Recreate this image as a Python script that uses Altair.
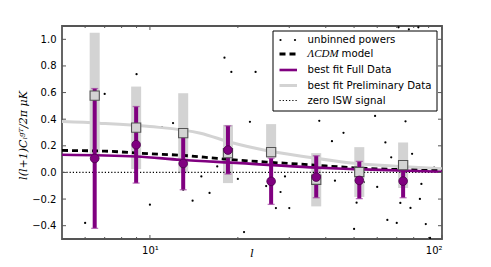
import altair as alt
import pandas as pd

# ---------------- data ----------------
ub_l = [6, 7, 9, 10, 11, 12, 13, 14, 15, 16, 17, 18, 19, 20, 21, 22, 23, 25, 27, 28,
        29, 30, 38, 42, 43, 46, 50, 51, 52, 54, 60, 59, 64, 65, 67, 70, 71, 72, 75, 77,
        78, 79, 83, 84, 85, 88, 91, 94]
ub_v = [-0.379, 0.590, 0.738, -0.242, 0.339, 0.371, -0.130, -0.212, -0.030, -0.154,
        0.045, 0.862, 0.755, -0.049, -0.448, 0.380, 0.755, -0.102, -0.268, -0.147,
        -0.030, -0.268, 0.388, 0.235, -0.062, 0.298, -0.424, -0.227, 0.145, -0.073,
        -0.109, 0.424, 0.225, -0.357, 0.114, -0.379, 1.09, -0.229, 0.384, 1.075,
        -0.267, 0.140, 1.09, -0.199, -0.086, -0.388, -0.492, 0.037]

bin_l = [6.47, 8.97, 13.0, 18.5, 26.0, 37.1, 52.1, 73.6]
full_v = [0.105, 0.208, 0.067, 0.168, -0.067, -0.035, -0.060, -0.065]
full_lo = [-0.42, -0.08, -0.13, -0.012, -0.24, -0.19, -0.197, -0.19]
full_hi = [0.63, 0.495, 0.27, 0.35, 0.107, 0.125, 0.083, 0.065]
pre_v = [0.577, 0.337, 0.295, 0.145, 0.153, -0.055, 0.003, 0.055]
pre_lo = [0.10, 0.025, -0.005, -0.08, 0.11, -0.255, -0.184, -0.117]
pre_hi = [1.05, 0.645, 0.595, 0.357, 0.363, 0.145, 0.19, 0.225]

pre_fit_l = [5, 6.7, 10, 14.9, 19, 25, 35.5, 47, 72, 100]
pre_fit_v = [0.382, 0.37, 0.345, 0.295, 0.225, 0.165, 0.112, 0.075, 0.045, 0.028]

lcdm_l = [5, 7, 10, 13, 17, 20, 25, 35, 50, 70, 100]
lcdm_v = [0.165, 0.16, 0.14, 0.128, 0.105, 0.092, 0.078, 0.058, 0.035, 0.022, 0.012]

full_fit_l = [5, 9, 12.7, 20.4, 35.5, 50, 100]
full_fit_v = [0.133, 0.12, 0.095, 0.07, 0.038, 0.025, 0.005]

y_ticks = [-0.4, -0.2, 0.0, 0.2, 0.4, 0.6, 0.8, 1.0]
x_major = [10, 100]
x_minor = [6, 7, 8, 9, 20, 30, 40, 50, 60, 70, 80, 90]

legend_labels = ["unbinned powers", "\u039bCDM", "best fit Full Data",
                 "best fit Preliminary Data", "zero ISW signal"]

# ---------------- layout ----------------
W, H = 380, 213
PURPLE = "#800080"
LGRAY = "#d3d3d3"

xs = alt.Scale(type="log", domain=[5, 100], nice=False)
ys = alt.Scale(domain=[-0.5, 1.1], nice=False, zero=False)

x_axis = alt.Axis(values=x_major, ticks=False, domain=False, grid=False, title=None,
                  labelExpr="datum.value == 10 ? '10\u00b9' : '10\u00b2'",
                  labelPadding=6, labelFontSize=10, labelFont="DejaVu Sans",
                  labelColor="black")
y_axis = alt.Axis(values=y_ticks, ticks=False, domain=False, grid=False, title=None,
                  labelExpr="replace(format(datum.value, '.1f'), '-', '\u2212')",
                  labelPadding=6, labelFontSize=10, labelFont="DejaVu Sans",
                  labelColor="black")

ub = pd.DataFrame({"l": ub_l, "v": ub_v})
bins = pd.DataFrame({"l": bin_l, "fv": full_v, "flo": full_lo, "fhi": full_hi,
                     "pv": pre_v, "plo": pre_lo, "phi": pre_hi})
pre_fit = pd.DataFrame({"l": pre_fit_l, "v": pre_fit_v})
lcdm = pd.DataFrame({"l": lcdm_l, "v": lcdm_v})
full_fit = pd.DataFrame({"l": full_fit_l, "v": full_fit_v})
one = pd.DataFrame({"k": [0]})


def X(f):
    return alt.X(f, type="quantitative", scale=xs, axis=x_axis)


def Y(f):
    return alt.Y(f, type="quantitative", scale=ys, axis=y_axis)


zero = alt.Chart(one).mark_rule(color="black", strokeWidth=1.2, strokeDash=[1.2, 2.0]).encode(
    y=alt.datum(0, scale=ys, axis=y_axis))

dots = alt.Chart(ub).mark_circle(color="black", size=5, opacity=1, clip=True).encode(
    x=X("l"), y=Y("v"))

pre_bars = alt.Chart(bins).mark_rule(color=LGRAY, strokeWidth=10).encode(
    x=X("l"), y=Y("plo"), y2="phi")

pre_line = alt.Chart(pre_fit).mark_line(color=LGRAY, strokeWidth=3, interpolate="monotone").encode(
    x=X("l"), y=Y("v"))
lcdm_line = alt.Chart(lcdm).mark_line(color="black", strokeWidth=2.8, strokeDash=[6, 4],
                                      interpolate="monotone").encode(x=X("l"), y=Y("v"))
full_line = alt.Chart(full_fit).mark_line(color=PURPLE, strokeWidth=2.6, interpolate="monotone").encode(
    x=X("l"), y=Y("v"))

full_bars = alt.Chart(bins).mark_rule(color=PURPLE, strokeWidth=4).encode(
    x=X("l"), y=Y("flo"), y2="fhi")
caps_hi = alt.Chart(bins).mark_tick(color="#a040a0", thickness=1.3, size=7, orient="horizontal").encode(
    x=X("l"), y=Y("fhi"))
caps_lo = alt.Chart(bins).mark_tick(color="#a040a0", thickness=1.3, size=7, orient="horizontal").encode(
    x=X("l"), y=Y("flo"))

squares = alt.Chart(bins).mark_point(shape="square", filled=True, fill=LGRAY, stroke="#555555",
                                     strokeWidth=1.1, size=85, opacity=1).encode(
    x=X("l"), y=Y("pv"))
circles = alt.Chart(bins).mark_circle(color=PURPLE, stroke="#4a004a", strokeWidth=0.8,
                                      size=75, opacity=1).encode(x=X("l"), y=Y("fv"))

# inward ticks
yt = pd.DataFrame({"v": y_ticks})
xt_major = pd.DataFrame({"l": x_major})
xt_minor = pd.DataFrame({"l": x_minor})
TC = "#555555"
ticks = [
    alt.Chart(yt).mark_rule(color=TC, strokeWidth=1).encode(y=Y("v"), x=alt.value(0), x2=alt.value(4)),
    alt.Chart(yt).mark_rule(color=TC, strokeWidth=1).encode(y=Y("v"), x=alt.value(W), x2=alt.value(W - 4)),
    alt.Chart(xt_major).mark_rule(color=TC, strokeWidth=1).encode(x=X("l"), y=alt.value(H), y2=alt.value(H - 4)),
    alt.Chart(xt_major).mark_rule(color=TC, strokeWidth=1).encode(x=X("l"), y=alt.value(0), y2=alt.value(4)),
    alt.Chart(xt_minor).mark_rule(color=TC, strokeWidth=1).encode(x=X("l"), y=alt.value(H), y2=alt.value(H - 2)),
    alt.Chart(xt_minor).mark_rule(color=TC, strokeWidth=1).encode(x=X("l"), y=alt.value(0), y2=alt.value(2)),
]

# titles
ytitle = alt.Chart(one).mark_text(font="DejaVu Serif", fontStyle="italic", fontSize=11,
                                  angle=270, align="center", baseline="middle", color="black").encode(
    x=alt.value(-38), y=alt.value(H / 2 + 3),
    text=alt.value("l(l+1)C\u2097\u1d4d\u1d40/2\u03c0 \u03bcK"))
xtitle = alt.Chart(one).mark_text(font="DejaVu Serif", fontStyle="italic", fontSize=11,
                                  align="center", baseline="bottom", color="black").encode(
    x=alt.value(W / 2), y=alt.value(H + 20), text=alt.value("l"))

# legend
LX0, LX1, LY0, LY1 = 211, 375, 5, 85
rows = [14, 28, 44, 59.5, 74.5]
SX0, SX1, TX = 217.5, 235, 245.5
leg = [alt.Chart(one).mark_rect(fill="white", stroke="black", strokeWidth=1).encode(
    x=alt.value(LX0), x2=alt.value(LX1), y=alt.value(LY0), y2=alt.value(LY1))]
leg.append(alt.Chart(one).mark_circle(color="black", size=5, opacity=1).encode(
    x=alt.value(SX0 + 1), y=alt.value(rows[0])))
leg.append(alt.Chart(one).mark_circle(color="black", size=5, opacity=1).encode(
    x=alt.value(SX1 - 2), y=alt.value(rows[0])))
leg.append(alt.Chart(one).mark_rule(color="black", strokeWidth=2.8, strokeDash=[6, 4]).encode(
    x=alt.value(SX0), x2=alt.value(SX1), y=alt.value(rows[1])))
leg.append(alt.Chart(one).mark_rule(color=PURPLE, strokeWidth=2.6).encode(
    x=alt.value(SX0), x2=alt.value(SX1), y=alt.value(rows[2])))
leg.append(alt.Chart(one).mark_rule(color=LGRAY, strokeWidth=3).encode(
    x=alt.value(SX0), x2=alt.value(SX1), y=alt.value(rows[3])))
leg.append(alt.Chart(one).mark_rule(color="black", strokeWidth=1.2, strokeDash=[1.2, 2.0]).encode(
    x=alt.value(SX0), x2=alt.value(SX1), y=alt.value(rows[4])))
for i, lab in enumerate(legend_labels):
    if i == 1:
        leg.append(alt.Chart(one).mark_text(font="Liberation Serif", fontStyle="italic", fontSize=11,
                                            align="left", baseline="middle", color="black").encode(
            x=alt.value(TX), y=alt.value(rows[i]), text=alt.value(lab)))
        leg.append(alt.Chart(one).mark_text(font="DejaVu Sans", fontSize=10.2,
                                            align="left", baseline="middle", color="black").encode(
            x=alt.value(TX + 34), y=alt.value(rows[i]), text=alt.value("model")))
    else:
        leg.append(alt.Chart(one).mark_text(font="DejaVu Sans", fontSize=10.2,
                                            align="left", baseline="middle", color="black").encode(
            x=alt.value(TX), y=alt.value(rows[i]), text=alt.value(lab)))

chart = alt.layer(
    dots, pre_bars, zero, pre_line, lcdm_line, full_line, full_bars, caps_hi, caps_lo,
    squares, circles, *ticks, ytitle, xtitle, *leg
).properties(
    width=W, height=H,
    autosize=alt.AutoSizeParams(type="none"),
    padding={"left": 54, "top": 18, "right": 41, "bottom": 20},
).configure_view(stroke="#555555", strokeWidth=1.8)

chart.save("out.html", embed_options={"renderer": "svg", "actions": False})
